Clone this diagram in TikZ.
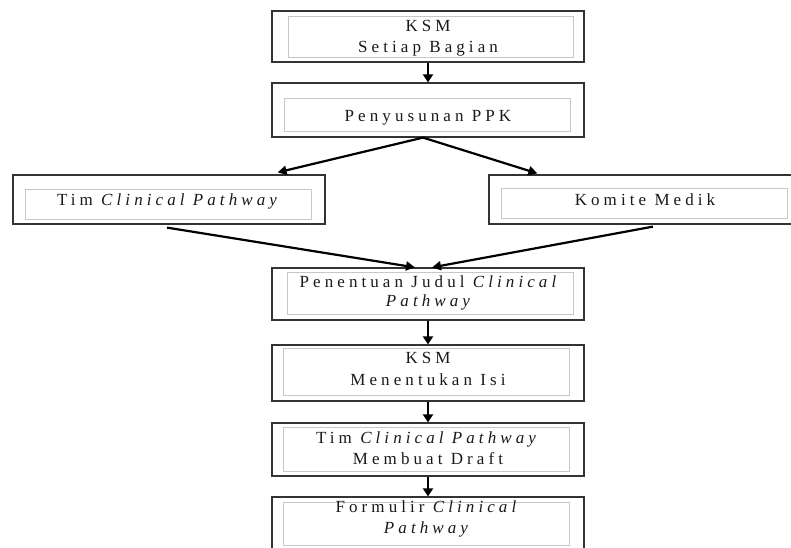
\documentclass[tikz,border=0pt]{standalone}
\usepackage{fontspec}
\setmainfont{Liberation Serif}
\newfontfamily\boxfont[LetterSpace=24]{Liberation Serif}
\usetikzlibrary{arrows.meta,calc}
\begin{document}
\begin{tikzpicture}[x=1pt,y=-1pt,
  outerbox/.style={draw=black!80,line width=1.2pt,inner sep=0pt,minimum width=312pt},
  innerbox/.style={draw=black!22,line width=1pt},
  lbl/.style={font=\boxfont\fontsize{17}{21}\selectfont,text=black!90,anchor=base,inner sep=0pt},
  arr/.style={line width=2.5pt,-{Triangle[length=8pt,width=10pt]}},
  darr/.style={line width=2.2pt,-{Triangle[length=9pt,width=9pt]}}]
\useasboundingbox (0,0) rectangle (791,547);

% outer boxes
\node[outerbox,minimum height=51pt] (b1)  at (428,36.5) {};
\node[outerbox,minimum height=54pt] (b2)  at (428,110) {};
\node[outerbox,minimum height=49pt] (tim) at (169,199.5) {};
\node[outerbox,minimum height=49pt] (kom) at (645,199.5) {};
\node[outerbox,minimum height=52pt] (pen) at (428,294) {};
\node[outerbox,minimum height=56pt] (ksm) at (428,373) {};
\node[outerbox,minimum height=53pt] (tmd) at (428,449.5) {};
\node[outerbox,minimum height=55pt] (frm) at (428,524.5) {};

% inner boxes
\draw[innerbox] ($(b1.north west)+(17,6)$)  rectangle ($(b1.south east)+(-11,-5)$);
\draw[innerbox] ($(b2.north west)+(13,16)$) rectangle ($(b2.south east)+(-14,-6)$);
\draw[innerbox] ($(tim.north west)+(13,15)$) rectangle ($(tim.south east)+(-14,-5)$);
\draw[innerbox] ($(kom.north west)+(13,14)$) rectangle ($(kom.south east)+(-14,-6)$);
\draw[innerbox] ($(pen.north west)+(16,5)$) rectangle ($(pen.south east)+(-11,-6)$);
\draw[innerbox] ($(ksm.north west)+(12,4)$) rectangle ($(ksm.south east)+(-15,-6)$);
\draw[innerbox] ($(tmd.north west)+(12,5)$) rectangle ($(tmd.south east)+(-15,-5)$);
\draw[innerbox] ($(frm.north west)+(12,6)$) rectangle ($(frm.south east)+(-15,-7)$);

% labels
\node[lbl] (t1a) at (428,31) {KSM};
\node[lbl] (t1b) at (428,52) {Setiap Bagian};
\node[lbl] (t2)  at (428,121) {Penyusunan PPK};
\node[lbl] (t3)  at (169,205) {Tim \textit{Clinical Pathway}};
\node[lbl] (t4)  at (645,205.5) {Komite Medik};
\node[lbl] (t5a) at (430,287) {Penentuan Judul \textit{Clinical}};
\node[lbl] (t5b) at (430,306) {\textit{Pathway}};
\node[lbl] (t6a) at (428,363) {KSM};
\node[lbl] (t6b) at (428,385) {Menentukan Isi};
\node[lbl] (t7a) at (428,443) {Tim \textit{Clinical Pathway}};
\node[lbl] (t7b) at (428,464) {Membuat Draft};
\node[lbl] (t8a) at (428,512) {Formulir \textit{Clinical}};
\node[lbl] (t8b) at (428,533) {\textit{Pathway}};

% connectors
\draw[arr] (b1.south) -- (b2.north);
\draw[darr] ($(b2.south)+(-5,0)$) -- ($(tim.north east)+(-48,-2)$);
\draw[darr] ($(b2.south)+(-5,0)$) -- ($(kom.north west)+(49,-1)$);
\draw[darr] ($(tim.south)+(-2,3)$) -- ($(pen.north)+(-13,0)$);
\draw[darr] ($(kom.south)+(8,2)$) -- ($(pen.north)+(4,0)$);
\draw[arr] (pen.south) -- (ksm.north);
\draw[arr] (ksm.south) -- (tmd.north);
\draw[arr] (tmd.south) -- (frm.north);
\end{tikzpicture}
\end{document}
